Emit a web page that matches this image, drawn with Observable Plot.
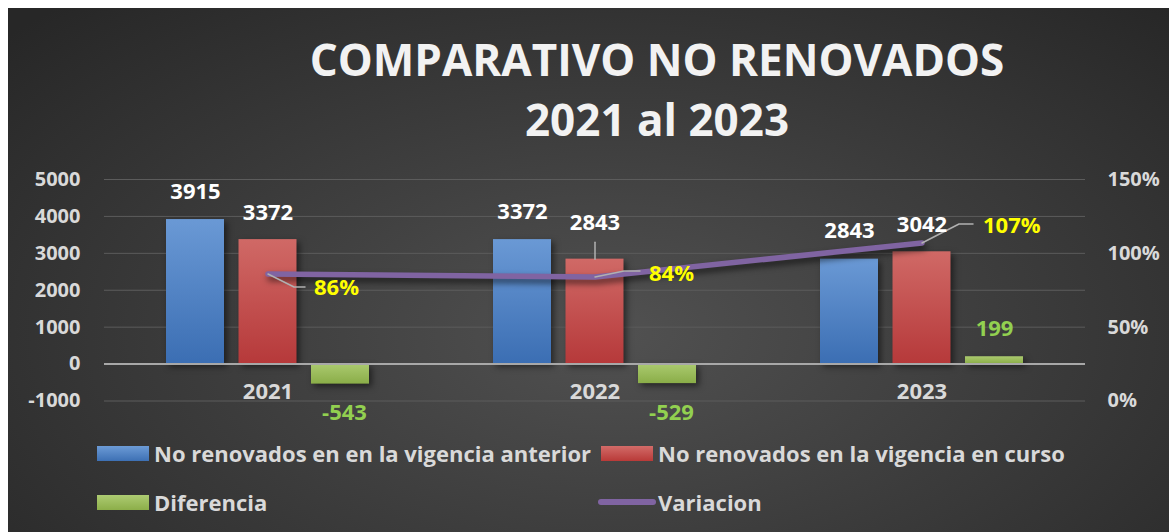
<!DOCTYPE html>
<html>
<head>
<meta charset="utf-8">
<script src="https://cdn.jsdelivr.net/npm/d3@7"></script>
<script src="https://cdn.jsdelivr.net/npm/@observablehq/plot@0.6"></script>
<style>
  html, body { margin: 0; padding: 0; width: 1169px; height: 532px; overflow: hidden; background: #ffffff; }
  body { position: relative; font-family: "Open Sans", Lato, sans-serif; }
  #bg { position: absolute; left: 8px; top: 8px; width: 1161px; height: 524px;
        background: radial-gradient(ellipse 70% 85% at 52% 62%, #515151 0%, #3e3e3e 45%, #272727 100%); }
  #title { position: absolute; left: 0; top: 29px; width: 1314px; text-align: center;
           color: #f2f2f2; font-weight: 700; font-size: 44px; line-height: 60px; }
  #chart { position: absolute; left: 0; top: 150px; }
  .lg { position: absolute; display: flex; align-items: center; height: 24px;
        color: #d9d9d9; font-weight: 700; font-size: 22px; white-space: nowrap; }
  .sw { display: inline-block; width: 52px; height: 15px; margin-right: 5px; }
  .ln { display: inline-block; width: 58px; height: 6px; border-radius: 3px; margin-right: 2px; background: #8064a2; }
</style>
</head>
<body>
<div id="bg"></div>
<div id="title">COMPARATIVO NO RENOVADOS<br>2021 al 2023</div>
<div id="chart"></div>
<div class="lg" style="left:97px; top:441px;"><span class="sw" style="background:linear-gradient(#6c9bd6,#3d70b4)"></span><span>No renovados en en la vigencia anterior</span></div>
<div class="lg" style="left:601px; top:441px;"><span class="sw" style="background:linear-gradient(#d26b68,#b93a38)"></span><span>No renovados en la vigencia en curso</span></div>
<div class="lg" style="left:97px; top:490px;"><span class="sw" style="background:linear-gradient(#adcb72,#8cae49)"></span><span>Diferencia</span></div>
<div class="lg" style="left:598px; top:490px;"><span class="ln"></span><span>Variacion</span></div>
<script>
// ---- data ----
const years = ["2021", "2022", "2023"];
const anterior = [3915, 3372, 2843];      // No renovados en la vigencia anterior
const curso = [3372, 2843, 3042];         // No renovados en la vigencia en curso
const diferencia = [-543, -529, 199];     // Diferencia
const variacion = [86, 84, 107];          // Variacion (%)
const leftTicks = [-1000, 0, 1000, 2000, 3000, 4000, 5000];
const rightTicks = [0, 50, 100, 150];     // percent

// ---- styling ----
const W = 1169, H = 290;
const mL = 104, mR = 84;
const band = (W - mL - mR) / years.length;
const barW = 58, step = 72.5;
const yMin = -1000, yMax = 5000, pMax = 150;
const toY = p => yMin + p / pMax * (yMax - yMin);   // secondary axis mapped on primary

const rows = years.map((year, i) => ({
  year, anterior: anterior[i], curso: curso[i], diferencia: diferencia[i], variacion: variacion[i]
}));

const insets = k => ({ insetLeft: (band - barW) / 2 + k * step, insetRight: (band - barW) / 2 - k * step });

const font = { fontFamily: "Open Sans", fontWeight: "bold" };

// leader line shapes (relative to label anchor point)
const poly = pts => ({ draw(ctx) { ctx.moveTo(0, 0); for (const [a, b] of pts) ctx.lineTo(a, b); } });
const pctLabelStyle = {
  "2021": { leader: [[26, 13], [37, 13]], dx: 46, dy: 13.5 },
  "2022": { leader: [[29, -6], [45, -6]], dx: 54, dy: -3.5 },
  "2023": { leader: [[37, -19], [51, -19]], dx: 61, dy: -17 }
};
const redLift = { "2022": 9 };

const defs = () => {
  const d = d3.create("svg:defs");
  const grads = [["gBlue", "#6a99d5", "#3b6eb3"], ["gRed", "#d06966", "#b6393a"], ["gGreen", "#abca6f", "#8aad48"]];
  for (const [id, a, b] of grads) {
    const g = d.append("linearGradient").attr("id", id).attr("x1", 0).attr("y1", 0).attr("x2", 0).attr("y2", 1);
    g.append("stop").attr("offset", "0%").attr("stop-color", a);
    g.append("stop").attr("offset", "100%").attr("stop-color", b);
  }
  return d.node();
};

const marks = [
  defs,
  Plot.ruleY(leftTicks.filter(t => t !== 0), { stroke: "#5c5c5c", strokeWidth: 1 }),
  Plot.barY(rows, { x: "year", y: "anterior", fill: "url(#gBlue)", ...insets(-1) }),
  Plot.barY(rows, { x: "year", y: "curso", fill: "url(#gRed)", ...insets(0) }),
  Plot.barY(rows, { x: "year", y: "diferencia", fill: "url(#gGreen)", ...insets(1) }),
  Plot.ruleY([0], { stroke: "#a8a8a8", strokeWidth: 2 }),
  Plot.axisY(leftTicks, { anchor: "left", tickSize: 0, tickPadding: 24, tickFormat: d => String(d),
    fontSize: 20, fill: "#d9d9d9", ...font }),
  Plot.axisY(rightTicks.map(toY), { anchor: "right", tickSize: 0, tickPadding: 22,
    tickFormat: v => Math.round((v - yMin) / (yMax - yMin) * pMax) + "%", fontSize: 20, fill: "#d9d9d9", ...font }),
  Plot.text(rows, { x: "year", text: "year", frameAnchor: "bottom", dy: -2.5, fill: "#d9d9d9", fontSize: 22, ...font }),
  Plot.line(rows, { x: "year", y: d => toY(d.variacion), stroke: "#8064a2", strokeWidth: 5.5, strokeLinecap: "round", strokeLinejoin: "round" }),
  // leader lines
  ...years.map(y => Plot.vector(rows.filter(d => d.year === y), {
    x: "year", y: d => toY(d.variacion), length: 1, rotate: 0, anchor: "start",
    shape: poly(pctLabelStyle[y].leader), stroke: "#b0b0b0", strokeWidth: 1.5, fill: "none"
  })),
  ...Object.keys(redLift).map(y => Plot.vector(rows.filter(d => d.year === y), {
    x: "year", y: "curso", length: 1, rotate: 0, anchor: "start",
    shape: poly([[0, -17]]), stroke: "#b0b0b0", strokeWidth: 1.5, fill: "none"
  })),
  // value labels
  Plot.text(rows, { x: "year", y: "anterior", text: d => String(d.anterior), dx: -step, dy: -28, fill: "#ffffff", fontSize: 22, ...font }),
  Plot.text(rows.filter(d => !redLift[d.year]), { x: "year", y: "curso", text: d => String(d.curso), dy: -27, fill: "#ffffff", fontSize: 22, ...font }),
  ...Object.keys(redLift).map(y => Plot.text(rows.filter(d => d.year === y), { x: "year", y: "curso", text: d => String(d.curso), dy: -27 - redLift[y], fill: "#ffffff", fontSize: 22, ...font })),
  Plot.text(rows.filter(d => d.diferencia >= 0), { x: "year", y: "diferencia", text: d => String(d.diferencia), dx: step, dy: -28, fill: "#92d050", fontSize: 22, ...font }),
  Plot.text(rows.filter(d => d.diferencia < 0), { x: "year", y: "diferencia", text: d => String(d.diferencia), dx: step + 4, dy: 29, fill: "#92d050", fontSize: 22, ...font }),
  ...years.map(y => Plot.text(rows.filter(d => d.year === y), {
    x: "year", y: d => toY(d.variacion), text: d => d.variacion + "%", textAnchor: "start",
    dx: pctLabelStyle[y].dx, dy: pctLabelStyle[y].dy, fill: "#ffff00", fontSize: 22, ...font
  }))
];

const svg = Plot.plot({
  width: W, height: H,
  marginLeft: mL, marginRight: mR, marginTop: 29, marginBottom: 39.5,
  style: { background: "transparent", overflow: "visible" },
  x: { type: "band", domain: years, padding: 0, axis: null },
  y: { domain: [yMin, yMax], axis: null },
  marks
});

const s = d3.select(svg);
s.selectAll('g[aria-label="bar"]').style("filter", "drop-shadow(3px 3px 3px rgba(0,0,0,0.5))");
s.selectAll('g[aria-label="line"]').style("filter", "drop-shadow(2px 4px 3px rgba(0,0,0,0.6))");
document.getElementById("chart").appendChild(svg);
</script>
</body>
</html>
